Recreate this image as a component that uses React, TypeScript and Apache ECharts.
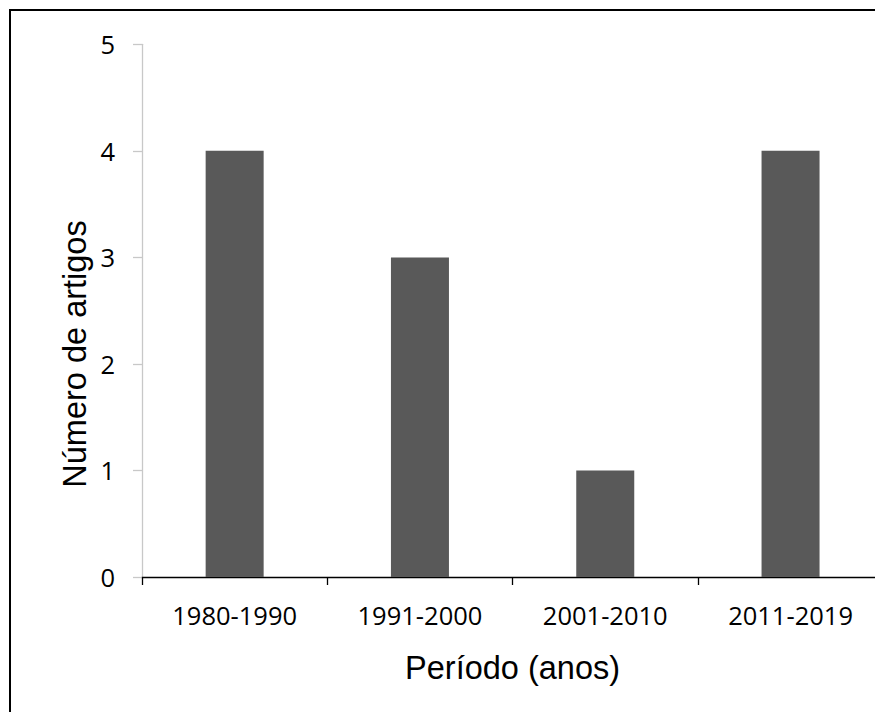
import React, { useEffect, useRef } from "react";
import * as echarts from "echarts";

const categories = ["1980-1990", "1991-2000", "2001-2010", "2011-2019"];
const articleCounts = [4, 3, 1, 4];
const yTicks = [0, 1, 2, 3, 4, 5];
const xTitle = "Período (anos)";
const yTitle = "Número de artigos";

export default function App() {
  const ref = useRef<HTMLDivElement>(null);
  useEffect(() => {
    if (!ref.current) return;
    const chart = echarts.init(ref.current, undefined, { renderer: "svg" });
    chart.setOption({
      animation: false,
      backgroundColor: "#ffffff",
      grid: {
        left: 142,
        top: 44.3,
        right: -8.2,
        bottom: 135,
        containLabel: false,
        outerBoundsMode: "none",
      },
      xAxis: {
        type: "category",
        data: categories,
        boundaryGap: true,
        name: xTitle,
        nameLocation: "middle",
        nameGap: 74,
        nameTextStyle: {
          fontFamily: "Liberation Sans, Arial, sans-serif",
          fontSize: 32.5,
          color: "#000000",
        },
        axisLine: { show: true, lineStyle: { color: "#000000", width: 1.3 } },
        axisTick: { show: true, length: 8, lineStyle: { color: "#000000", width: 1.3 } },
        axisLabel: {
          fontFamily: "Open Sans",
          fontSize: 25.5,
          color: "#000000",
          margin: 25,
          interval: 0,
        },
        splitLine: { show: false },
      },
      yAxis: {
        type: "value",
        min: yTicks[0],
        max: yTicks[yTicks.length - 1],
        interval: 1,
        axisLine: { show: true, lineStyle: { color: "#c8c8c8", width: 1.3 } },
        axisTick: { show: true, length: 9, lineStyle: { color: "#c8c8c8", width: 1.3 } },
        axisLabel: {
          fontFamily: "Open Sans",
          fontSize: 25.5,
          color: "#000000",
          margin: 27,
        },
        splitLine: { show: false },
      },
      series: [
        {
          type: "bar",
          data: articleCounts,
          barWidth: 58,
          itemStyle: { color: "#595959" },
        },
      ],
      graphic: [
        {
          type: "rect",
          shape: { x: 10, y: 10, width: 900, height: 800 },
          style: { fill: "none", stroke: "#000000", lineWidth: 2 },
          silent: true,
        },
        {
          type: "text",
          x: 75,
          y: 354,
          rotation: Math.PI / 2,
          style: {
            text: yTitle,
            fontFamily: "Liberation Sans, Arial, sans-serif",
            fontSize: 32.5,
            fill: "#000000",
            align: "center",
            verticalAlign: "middle",
          },
          silent: true,
        },
      ],
    });
    return () => chart.dispose();
  }, []);
  return (
    <div
      ref={ref}
      style={{ position: "absolute", left: 0, top: 0, width: 875, height: 712 }}
    />
  );
}
